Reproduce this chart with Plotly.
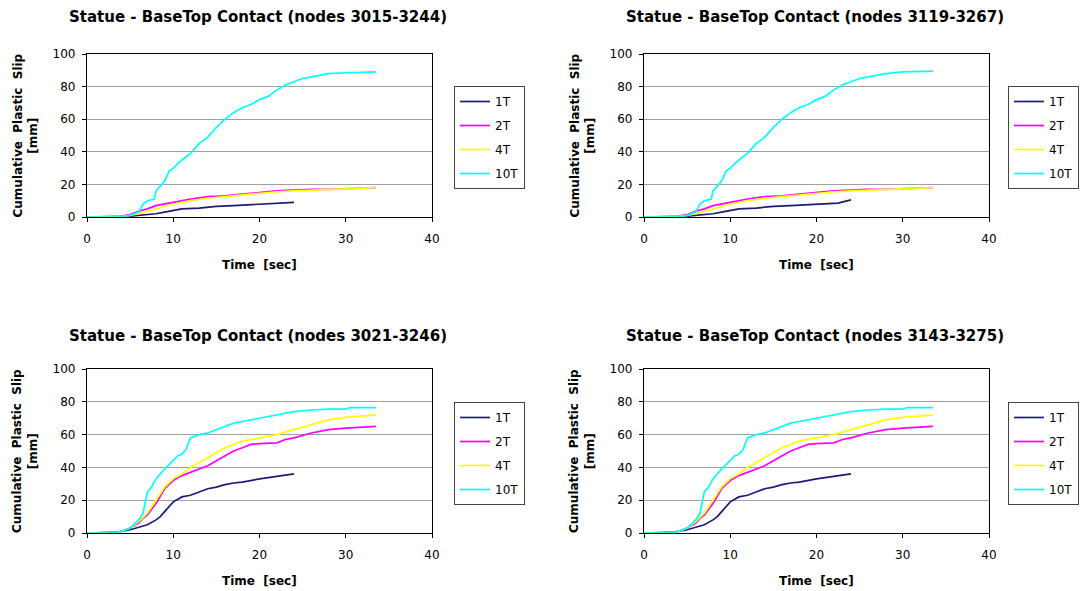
import plotly.graph_objects as go

# ---------- data ----------
titles = ["Statue - BaseTop Contact (nodes 3015-3244)",
          "Statue - BaseTop Contact (nodes 3119-3267)",
          "Statue - BaseTop Contact (nodes 3021-3246)",
          "Statue - BaseTop Contact (nodes 3143-3275)"]
series_names = ["1T", "2T", "4T", "10T"]
series_colors = ["#1c1c78", "#ff00ff", "#ffff00", "#00ffff"]

# top plots (small slip)
t_1T_top = [0, 4, 5, 6, 7, 8, 9, 10, 11, 13, 15, 17, 19, 21, 22.5, 24]
y_1T_a = [0, 0, 0.5, 1, 1.5, 2, 3, 4, 5, 5.5, 6.5, 7, 7.5, 8, 8.5, 9]
y_1T_b = [0, 0, 0.5, 1, 1.5, 2, 3, 4, 5, 5.5, 6.5, 7, 7.5, 8, 8.5, 10.5]
t_2T_top = [0, 4, 5, 6, 7, 8, 10, 12, 14, 16, 18, 20, 22, 24, 26, 28, 30, 33.5]
y_2T_top = [0, 0.5, 1.5, 3.5, 5, 7, 9, 11, 12.5, 13, 14, 15, 16, 16.5, 17, 17, 17.5, 18]
t_4T_top = [0, 4, 5, 6, 7, 8, 10, 12, 14, 16, 18, 20, 22, 24, 26, 28, 30, 33.5]
y_4T_top = [0, 0.3, 1, 2, 3.5, 5, 8, 10, 11.5, 12.5, 13.5, 14.5, 15.5, 16, 16.5, 17, 17.5, 18]
t_10T_top = [0, 4, 5, 6, 6.5, 7, 7.8, 8, 9, 9.5, 10, 11, 12, 13, 14, 15, 16, 17, 18, 19,
             20, 21, 22, 23, 24, 25, 26, 27, 28, 30, 33.5]
y_10T_a = [0, 0, 1, 3, 8, 10, 11, 16, 22, 28, 30, 35, 39, 45, 49, 55, 60, 64, 67, 69,
           72, 74, 78, 81, 83, 85, 86, 87, 88, 88.5, 89]
y_10T_b = [0, 0, 1, 3, 8, 10, 11, 16, 22, 28, 30, 35, 39, 45, 49, 55, 60, 64, 67, 69,
           72, 74, 78, 81, 83, 85, 86, 87, 88, 89, 89.5]

# bottom plots (large slip)
t_1T_bot = [0, 3.5, 5, 6, 7, 8, 8.5, 9, 10, 11, 12, 13, 14, 15, 16, 17, 18, 20, 22, 24]
y_1T_bot = [0, 0.5, 2, 3.5, 5, 8, 10, 13, 19, 22, 23, 25, 27, 28, 29.5, 30.5, 31, 33, 34.5, 36]
t_2T_bot = [0, 3.5, 4, 5, 6, 6.5, 7, 8, 9, 10, 11, 12, 13, 14, 15, 16, 17, 18, 19, 20,
            22, 23, 24, 26, 28, 30, 33.5]
y_2T_bot = [0, 0, 1, 3, 6, 9, 11, 18, 27, 32, 35, 37, 39, 41, 44, 47, 50, 52, 54, 54.5,
            55, 57, 58, 61, 63, 64, 65]
t_4T_bot = [0, 3.5, 4, 5, 6, 7, 8, 9, 10, 11, 12, 13, 14, 15, 16, 17, 18, 20, 22, 24,
            26, 28, 30, 33.5]
y_4T_bot = [0, 0, 1, 3, 7, 12, 20, 28, 33, 36, 40, 43, 46, 49, 52, 54, 56, 58, 60, 63,
            66, 69, 70.5, 72]
t_10T_bot = [0, 3, 4, 5, 6, 6.5, 6.8, 7, 7.5, 8, 9, 10, 10.5, 11, 11.5, 12, 13, 14, 15,
             16, 17, 18, 20, 22, 24, 26, 28, 30, 30.5, 33.5]
y_10T_bot = [0, 0, 1, 3, 8, 12, 20, 25, 28, 33, 39, 44, 47, 48, 51, 58, 60, 61, 63,
             65, 67, 68, 70, 72, 74, 75, 75.5, 75.5, 76.5, 76.5]

panels = [
    [(t_1T_top, y_1T_a), (t_2T_top, y_2T_top), (t_4T_top, y_4T_top), (t_10T_top, y_10T_a)],
    [(t_1T_top, y_1T_b), (t_2T_top, y_2T_top), (t_4T_top, y_4T_top), (t_10T_top, y_10T_b)],
    [(t_1T_bot, y_1T_bot), (t_2T_bot, y_2T_bot), (t_4T_bot, y_4T_bot), (t_10T_bot, y_10T_bot)],
    [(t_1T_bot, y_1T_bot), (t_2T_bot, y_2T_bot), (t_4T_bot, y_4T_bot), (t_10T_bot, y_10T_bot)],
]

x_ticks = [0, 10, 20, 30, 40]
y_ticks = [0, 20, 40, 60, 80, 100]

# ---------- layout ----------
W, H = 1084, 591
col_px = [(87, 432), (644, 989)]
row_px = [(54, 217), (369, 533)]
leg_px = [(454, 86, "left"), (1079, 86, "right"), (454, 402, "left"), (1079, 402, "right")]

FONT = "DejaVu Sans, Arial, sans-serif"
fig = go.Figure()
annotations = []
layout = dict(width=W, height=H, margin=dict(l=0, r=0, t=0, b=0, autoexpand=False),
              paper_bgcolor="white", plot_bgcolor="white", template="none",
              font=dict(family=FONT, size=12, color="black"))

for i in range(4):
    r, c = divmod(i, 2)
    xa = "x" if i == 0 else f"x{i+1}"
    ya = "y" if i == 0 else f"y{i+1}"
    lg = "legend" if i == 0 else f"legend{i+1}"
    for k, (tx, ty) in enumerate(panels[i]):
        fig.add_trace(go.Scatter(x=tx, y=ty, mode="lines", name=series_names[k],
                                 line=dict(color=series_colors[k], width=1.7),
                                 legendgroup=f"g{i}_{k}",
                                 xaxis=xa, yaxis=ya, legend=lg, showlegend=True))
    x0, x1 = col_px[c]
    y0, y1 = row_px[r]
    xkey = "xaxis" if i == 0 else f"xaxis{i+1}"
    ykey = "yaxis" if i == 0 else f"yaxis{i+1}"
    layout[xkey] = dict(domain=[x0 / W, x1 / W], range=[0, 40], tickvals=x_ticks,
                        anchor=ya, showgrid=False, zeroline=False, automargin=False,
                        showline=True, linecolor="black", linewidth=1.2, mirror=True,
                        ticks="outside", ticklen=4, tickcolor="black",
                        ticklabelstandoff=6,
                        tickfont=dict(size=12, family=FONT))
    layout[ykey] = dict(domain=[1 - y1 / H, 1 - y0 / H], range=[0, 100], tickvals=y_ticks,
                        anchor=xa, showgrid=True, gridcolor="#a0a0a0", gridwidth=1,
                        zeroline=False, showline=True, linecolor="black", linewidth=1.2,
                        mirror=True, ticks="outside", ticklen=4, tickcolor="black",
                        automargin=False, ticklabelstandoff=4,
                        tickfont=dict(size=12, family=FONT))
    lx, ly, lanchor = leg_px[i]
    layout[lg] = dict(x=lx / W, y=1 - ly / H, xanchor=lanchor, yanchor="top",
                      bgcolor="white", bordercolor="#444444", borderwidth=1,
                      font=dict(size=12, family=FONT, color="black"),
                      itemwidth=30, tracegroupgap=5)
    cx = (x0 + x1) / 2
    title_y = 17 if r == 0 else 336
    annotations.append(dict(text=f"<b>{titles[i]}</b>", x=(cx - 2) / W, y=1 - title_y / H,
                            xref="paper", yref="paper", showarrow=False,
                            xanchor="center", yanchor="middle",
                            font=dict(size=15, family=FONT)))
    annotations.append(dict(text="<b>Time  [sec]</b>", x=cx / W, y=1 - (y1 + 48) / H,
                            xref="paper", yref="paper", showarrow=False,
                            xanchor="center", yanchor="middle",
                            font=dict(size=12, family=FONT)))
    annotations.append(dict(text="<b>Cumulative  Plastic  Slip<br>[mm]</b>",
                            x=(x0 - 62) / W, y=1 - ((y0 + y1) / 2) / H,
                            xref="paper", yref="paper", showarrow=False, textangle=-90,
                            xanchor="center", yanchor="middle",
                            font=dict(size=12, family=FONT)))

layout["annotations"] = annotations
fig.update_layout(**layout)
fig.write_html("out.html")
